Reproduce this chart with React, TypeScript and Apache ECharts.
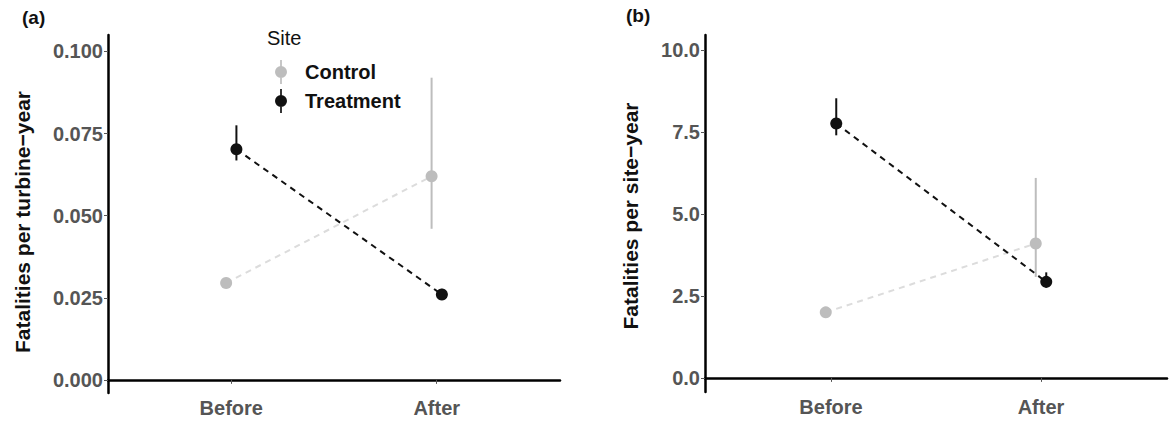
import React, { useEffect, useRef } from "react";
import * as echarts from "echarts";

const categories = ["Before", "After"];
const siteNames = ["Control", "Treatment"];

// Panel (a): fatalities per turbine-year
const ctrlA = [0.0295, 0.062];
const ctrlALow = [0.028, 0.046];
const ctrlAHigh = [0.031, 0.092];
const treatA = [0.0702, 0.026];
const treatALow = [0.0668, 0.0245];
const treatAHigh = [0.0775, 0.0277];
const ticksA = [0, 0.025, 0.05, 0.075, 0.1];

// Panel (b): fatalities per site-year
const ctrlB = [2.0, 4.1];
const ctrlBLow = [1.9, 3.08];
const ctrlBHigh = [2.1, 6.1];
const treatB = [7.76, 2.93];
const treatBLow = [7.4, 2.75];
const treatBHigh = [8.53, 3.22];
const ticksB = [0, 2.5, 5, 7.5, 10];

const DODGE = 0.025;
const FONT = "'Liberation Sans', Arial, sans-serif";
const CTRL_COLOR = "#bdbdbd";
const CTRL_LINE = "#dcdcdc";
const TREAT_COLOR = "#111111";

const pos = (vals: number[], off: number) => vals.map((v, i) => [i + 1 + off, v]);
const bars = (lo: number[], hi: number[], off: number) =>
  lo.map((l, i) => [i + 1 + off, l, hi[i]]);

const errSeries = (name: string, idx: number, data: number[][], color: string) => ({
  type: "custom",
  name,
  xAxisIndex: idx,
  yAxisIndex: idx,
  data,
  z: 1,
  encode: { x: 0, y: [1, 2] },
  renderItem: (_p: any, api: any) => {
    const x = api.value(0);
    const a = api.coord([x, api.value(1)]);
    const b = api.coord([x, api.value(2)]);
    return {
      type: "line",
      shape: { x1: a[0], y1: a[1], x2: b[0], y2: b[1] },
      style: { stroke: color, lineWidth: 2 },
    };
  },
});

const lineSeries = (name: string, idx: number, data: number[][], color: string, lineColor: string) => ({
  type: "line",
  name,
  xAxisIndex: idx,
  yAxisIndex: idx,
  data,
  z: 3,
  symbol: "circle",
  symbolSize: 12,
  itemStyle: { color },
  lineStyle: { color: lineColor, width: 2, type: [6, 5] },
});

const xAxisDef = (gridIndex: number) => ({
  type: "value",
  gridIndex,
  min: 0.4,
  max: 2.6,
  axisLine: { show: true, lineStyle: { color: "#000", width: 2.5 } },
  axisTick: { show: true, customValues: [1, 2], length: 4, lineStyle: { color: "#555" } },
  axisLabel: {
    customValues: [1, 2],
    formatter: (v: number) => categories[Math.round(v) - 1] ?? "",
    color: "#555",
    fontWeight: "bold",
    fontSize: 20,
    fontFamily: FONT,
    margin: 5,
  },
  splitLine: { show: false },
});

const yAxisDef = (gridIndex: number, min: number, max: number, ticks: number[], dec: number) => ({
  type: "value",
  gridIndex,
  min,
  max,
  axisLine: { show: true, lineStyle: { color: "#000", width: 2.5 } },
  axisTick: { show: true, customValues: ticks, length: 4, lineStyle: { color: "#555" } },
  axisLabel: {
    customValues: ticks,
    formatter: (v: number) => v.toFixed(dec),
    color: "#555",
    fontWeight: "bold",
    fontSize: 20,
    fontFamily: FONT,
    margin: 5,
  },
  splitLine: { show: false },
});

const legendIcon =
  "path://M4.3,0 H5.7 V5.2 H4.3 Z M4.3,14.8 H5.7 V20 H4.3 Z M0,10 A5,5 0 1 1 10,10 A5,5 0 1 1 0,10 Z";

export default function App() {
  const ref = useRef<HTMLDivElement>(null);
  useEffect(() => {
    document.body.style.margin = "0";
    if (!ref.current) return;
    const chart = echarts.init(ref.current, null, { renderer: "svg" });
    chart.setOption({
      animation: false,
      backgroundColor: "#fff",
      textStyle: { fontFamily: FONT },
      grid: [
        { left: 108, right: 612, top: 35, bottom: 28 },
        { left: 705, right: 5, top: 35, bottom: 29 },
      ],
      xAxis: [xAxisDef(0), xAxisDef(1)],
      yAxis: [yAxisDef(0, -0.004, 0.105, ticksA, 3), yAxisDef(1, -0.43, 10.46, ticksB, 1)],
      legend: {
        data: siteNames,
        orient: "vertical",
        left: 270,
        top: 55,
        itemWidth: 12,
        itemHeight: 24,
        itemGap: 5,
        icon: legendIcon,
        textStyle: {
          fontSize: 20,
          fontWeight: "bold",
          color: "#111",
          fontFamily: FONT,
          padding: [0, 0, 0, 13],
        },
      },
      graphic: [
        { type: "text", left: 22, top: 8, style: { text: "(a)", fontSize: 19, fontWeight: "bold", fill: "#111", fontFamily: FONT } },
        { type: "text", left: 626, top: 6, style: { text: "(b)", fontSize: 19, fontWeight: "bold", fill: "#111", fontFamily: FONT } },
        { type: "text", left: 267, top: 28, style: { text: "Site", fontSize: 20, fill: "#111", fontFamily: FONT } },
        {
          type: "text",
          x: 22,
          y: 222,
          rotation: Math.PI / 2,
          style: {
            text: "Fatalities per turbine\u2212year",
            fontSize: 21,
            fontWeight: "bold",
            fill: "#111",
            fontFamily: FONT,
            align: "center",
            verticalAlign: "middle",
          },
        },
        {
          type: "text",
          x: 630,
          y: 216,
          rotation: Math.PI / 2,
          style: {
            text: "Fatalities per site\u2212year",
            fontSize: 21,
            fontWeight: "bold",
            fill: "#111",
            fontFamily: FONT,
            align: "center",
            verticalAlign: "middle",
          },
        },
      ],
      series: [
        errSeries("errCtrlA", 0, bars(ctrlALow, ctrlAHigh, -DODGE), CTRL_COLOR),
        errSeries("errTreatA", 0, bars(treatALow, treatAHigh, DODGE), TREAT_COLOR),
        lineSeries("Control", 0, pos(ctrlA, -DODGE), CTRL_COLOR, CTRL_LINE),
        lineSeries("Treatment", 0, pos(treatA, DODGE), TREAT_COLOR, TREAT_COLOR),
        errSeries("errCtrlB", 1, bars(ctrlBLow, ctrlBHigh, -DODGE), CTRL_COLOR),
        errSeries("errTreatB", 1, bars(treatBLow, treatBHigh, DODGE), TREAT_COLOR),
        lineSeries("Control", 1, pos(ctrlB, -DODGE), CTRL_COLOR, CTRL_LINE),
        lineSeries("Treatment", 1, pos(treatB, DODGE), TREAT_COLOR, TREAT_COLOR),
      ],
    });
    return () => chart.dispose();
  }, []);
  return <div ref={ref} style={{ width: 1172, height: 421 }} />;
}
